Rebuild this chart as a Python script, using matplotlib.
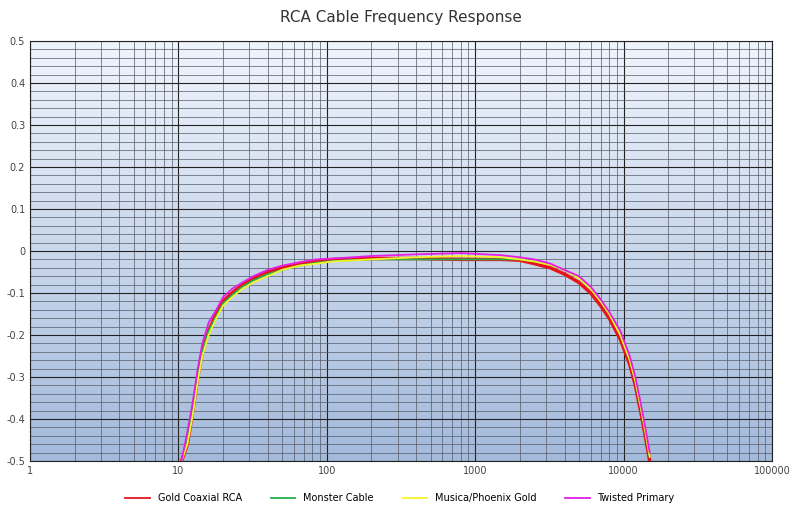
import numpy as np
import matplotlib.pyplot as plt

freq = [10.5, 11.5, 12.5, 13.5, 14.5, 16, 18, 20, 23, 27, 32, 40, 50, 65, 85, 110, 200, 400, 800, 1500, 2000,
        2500, 3200, 4000, 5000, 6000, 7000, 8000, 9500, 11000, 12000, 13000, 14000, 15000]
gold = [-0.5, -0.46, -0.38, -0.30, -0.24, -0.19, -0.15, -0.12, -0.10, -0.08, -0.065, -0.05, -0.04, -0.03, -0.025,
        -0.02, -0.018, -0.018, -0.02, -0.02, -0.022, -0.03, -0.04, -0.055, -0.075, -0.10, -0.13, -0.16, -0.21,
        -0.27, -0.32, -0.38, -0.44, -0.5]
monster = [-0.5, -0.45, -0.38, -0.30, -0.24, -0.19, -0.155, -0.125, -0.105, -0.085, -0.07, -0.055, -0.045, -0.035,
           -0.028, -0.024, -0.02, -0.02, -0.02, -0.02, -0.02, -0.025, -0.033, -0.045, -0.065, -0.09, -0.12, -0.15,
           -0.20, -0.26, -0.31, -0.37, -0.43, -0.49]
musica = [-0.5, -0.46, -0.39, -0.31, -0.25, -0.20, -0.16, -0.13, -0.11, -0.09, -0.075, -0.06, -0.045, -0.035,
          -0.03, -0.025, -0.02, -0.015, -0.012, -0.015, -0.02, -0.025, -0.033, -0.045, -0.065, -0.09, -0.12, -0.15,
          -0.20, -0.26, -0.31, -0.37, -0.43, -0.49]
twisted = [-0.5, -0.43, -0.36, -0.28, -0.22, -0.17, -0.14, -0.11, -0.09, -0.075, -0.06, -0.045, -0.035, -0.027,
           -0.02, -0.018, -0.012, -0.008, -0.005, -0.01, -0.015, -0.02, -0.03, -0.045, -0.06, -0.085, -0.115,
           -0.145, -0.19, -0.25, -0.30, -0.36, -0.42, -0.48]

fig = plt.figure(figsize=(8, 5.12), dpi=100)
ax = fig.add_axes([0.0375, 0.0996, 0.9275, 0.8204])
grad = np.linspace(0, 1, 256).reshape(-1, 1)
c0 = np.array([0.94, 0.96, 0.99]); c1 = np.array([0.64, 0.73, 0.86])
img = c0 + grad * (c1 - c0)
ax.imshow(img[:, None, :].repeat(2, axis=1), extent=[0, 1, 0, 1], transform=ax.transAxes,
          aspect='auto', zorder=0)

ax.set_xscale('log')
ax.set_xlim(1, 100000)
ax.set_ylim(-0.5, 0.5)
ax.set_yticks(np.arange(-0.5, 0.51, 0.1))
ax.set_yticklabels(['-0.5', '-0.4', '-0.3', '-0.2', '-0.1', '0', '0.1', '0.2', '0.3', '0.4', '0.5'])
ax.set_yticks(np.arange(-0.5, 0.51, 0.02), minor=True)
ax.set_xticks([1, 10, 100, 1000, 10000, 100000])
ax.set_xticklabels(['1', '10', '100', '1000', '10000', '100000'])
ax.grid(True, which='major', color='#222222', lw=0.8, zorder=1)
ax.grid(True, which='minor', color='#555a66', lw=0.5, zorder=1)
ax.tick_params(which='both', length=0, labelsize=7, colors='#444444')
for s in ax.spines.values():
    s.set_color('#222222')

ax.plot(freq, gold, color='#e8141c', lw=2.5, label='Gold Coaxial RCA', zorder=3)
ax.plot(freq, monster, color='#21b04b', lw=1.3, label='Monster Cable', zorder=3)
ax.plot(freq, musica, color='#f5f52a', lw=1.3, label='Musica/Phoenix Gold', zorder=4)
ax.plot(freq, twisted, color='#e51ee5', lw=1.3, label='Twisted Primary', zorder=5)

ax.set_title('RCA Cable Frequency Response', fontsize=11, color='#333333', pad=14)
leg = fig.legend(loc='lower center', ncol=4, frameon=False, fontsize=7, bbox_to_anchor=(0.5, 0.0),
                 handlelength=2.5, columnspacing=3)
for h in leg.get_lines():
    h.set_linewidth(1.3)
fig.savefig('out.png')
